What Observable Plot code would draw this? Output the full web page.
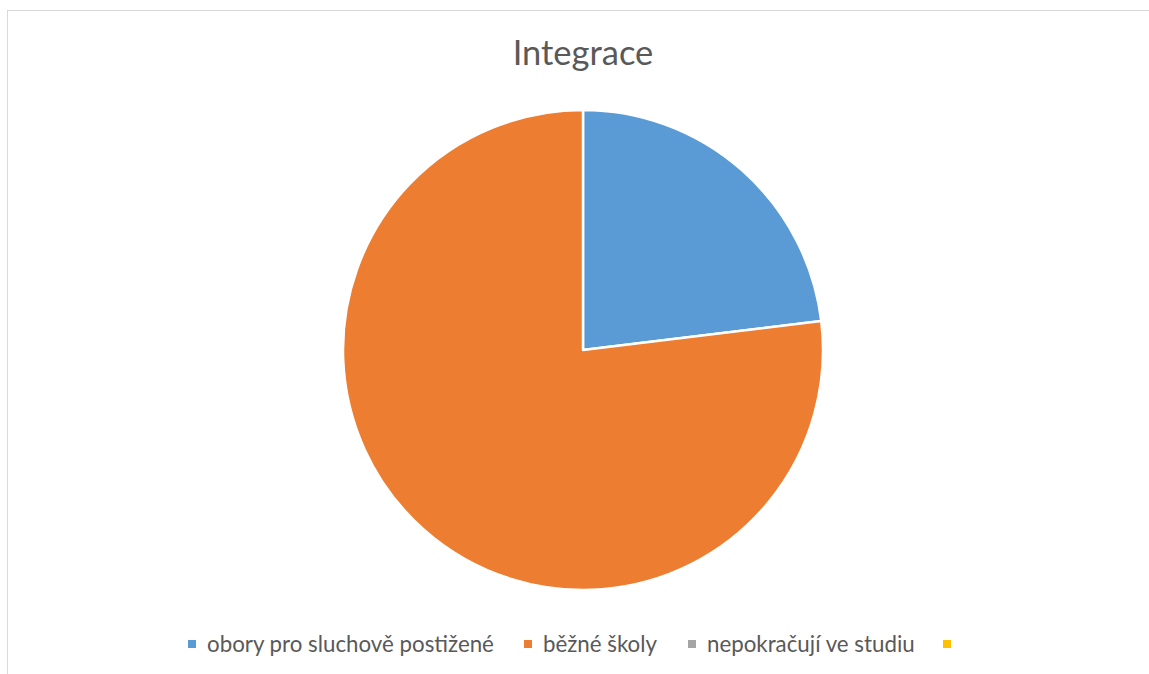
<!DOCTYPE html>
<html><head><meta charset="utf-8">
<script src="https://cdn.jsdelivr.net/npm/d3@7"></script>
<script src="https://cdn.jsdelivr.net/npm/@observablehq/plot@0.6"></script>
<style>
html,body{margin:0;padding:0;background:#fff;overflow:hidden;}
body{width:1149px;height:674px;position:relative;font-family:Lato,"Open Sans",sans-serif;}
#frame{position:absolute;left:7px;top:10px;width:1160px;height:700px;border:1px solid #d9d9d9;box-sizing:border-box;}
#title{position:absolute;left:0;width:1166px;top:32px;text-align:center;font-size:34.5px;line-height:40px;color:#595959;}
#chart{position:absolute;left:0;top:100px;}
.lg{position:absolute;top:630px;font-size:22.3px;line-height:28px;color:#595959;white-space:nowrap;}
.sw{position:absolute;top:640px;width:8px;height:8px;}
</style></head>
<body>
<div id="frame"></div>
<div id="title">Integrace</div>
<div id="chart"></div>
<div id="legend"></div>
<script>
const categories = ["obory pro sluchově postižené", "běžné školy", "nepokračují ve studiu", ""];
const values = [3, 10, 0, 0];
const colors = ["#5B9BD5", "#ED7D31", "#A5A5A5", "#FFC000"];

const pie = d3.pie().sort(null).value(d => d.value);
const slices = pie(categories.map((c, i) => ({category: c, value: values[i]})));

const chart = Plot.plot({
  width: 1149,
  height: 500,
  margin: 0,
  x: {type: "linear", domain: [-1, 1], range: [343, 823], axis: null},
  y: {type: "linear", domain: [-1, 1], range: [490, 10], axis: null},
  color: {type: "ordinal", domain: categories, range: colors},
  marks: [
    Plot.dot(slices, {
      x: () => 0, y: () => 0, fill: d => d.data.category,
      render: (index, scales, values, dims, context) => {
        const cx = scales.x(0), cy = scales.y(0);
        const r = scales.x(1) - scales.x(0);
        const arc = d3.arc().innerRadius(0).outerRadius(r);
        const grp = d3.create("svg:g").attr("transform", `translate(${cx},${cy})`);
        for (const i of index) {
          const s = slices[i];
          if (s.endAngle - s.startAngle <= 0) continue;
          grp.append("path").attr("d", arc(s)).attr("fill", scales.color(s.data.category))
            .attr("stroke", "#fff").attr("stroke-width", 2.5).attr("stroke-linejoin", "round");
        }
        return grp.node();
      }
    })
  ]
});
document.getElementById("chart").appendChild(chart);

const lgX = [188, 524, 688, 943];
const leg = document.getElementById("legend");
categories.forEach((c, i) => {
  const sw = document.createElement("div");
  sw.className = "sw"; sw.style.left = lgX[i] + "px"; sw.style.background = colors[i];
  leg.appendChild(sw);
  const t = document.createElement("div");
  t.className = "lg"; t.style.left = (lgX[i] + 19) + "px"; t.textContent = c;
  leg.appendChild(t);
});
</script>
</body></html>
